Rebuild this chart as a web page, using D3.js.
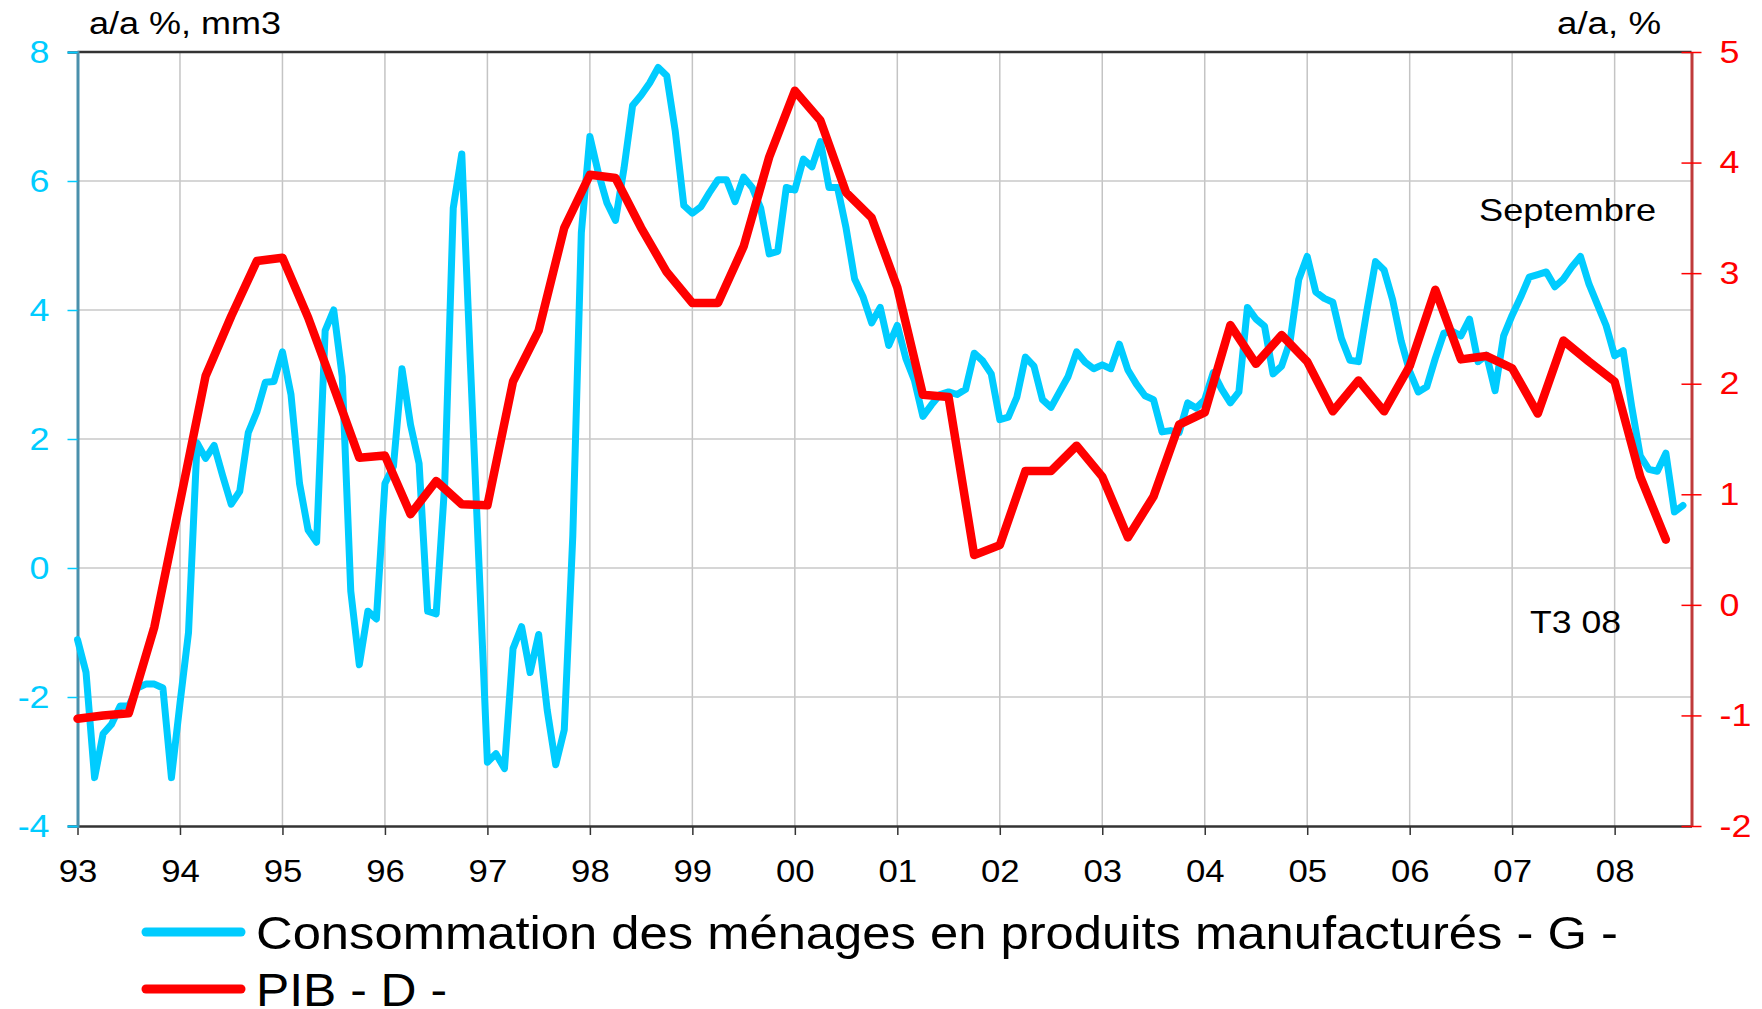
<!DOCTYPE html>
<html>
<head>
<meta charset="utf-8">
<script src="https://cdn.jsdelivr.net/npm/d3@7"></script>
<style>
  html, body { margin: 0; padding: 0; background: #fff; }
  svg { display: block; font-family: "Liberation Sans", Arial, sans-serif; }
</style>
</head>
<body>
<svg id="chart" width="1762" height="1009"></svg>
<script>
// Consommation des ménages en produits manufacturés, a/a %, mm3 (monthly, Jan 93 - Sep 08)
var conso = [
  -1.11, -1.62, -3.25, -2.57, -2.42, -2.14, -2.14, -1.86, -1.80, -1.80, -1.86, -3.25,
  -2.10, -1.00, 1.94, 1.70, 1.90, 1.43, 0.99, 1.19, 2.10, 2.42, 2.88, 2.89,
  3.35, 2.69, 1.31, 0.59, 0.40, 3.68, 4.00, 2.97, -0.36, -1.50, -0.67, -0.79,
  1.31, 1.58, 3.09, 2.22, 1.62, -0.67, -0.71, 1.30, 5.58, 6.42, 3.20, 0.10,
  -3.01, -2.88, -3.11, -1.25, -0.91, -1.62, -1.03, -2.20, -3.05, -2.51, 0.50, 5.20,
  6.69, 6.12, 5.66, 5.39, 6.20, 7.17, 7.33, 7.52, 7.76, 7.63, 6.77, 5.62,
  5.50, 5.60, 5.82, 6.02, 6.02, 5.68, 6.06, 5.90, 5.58, 4.87, 4.91, 5.90,
  5.86, 6.34, 6.22, 6.61, 5.90, 5.90, 5.27, 4.48, 4.20, 3.80, 4.04, 3.45,
  3.76, 3.25, 2.91, 2.35, 2.53, 2.69, 2.73, 2.69, 2.77, 3.33, 3.21, 3.01,
  2.30, 2.34, 2.65, 3.27, 3.13, 2.61, 2.49, 2.73, 2.97, 3.35, 3.19, 3.09,
  3.15, 3.09, 3.47, 3.07, 2.85, 2.67, 2.61, 2.11, 2.13, 2.10, 2.56, 2.48,
  2.61, 3.03, 2.77, 2.56, 2.73, 4.04, 3.86, 3.75, 3.01, 3.13, 3.52, 4.47,
  4.83, 4.28, 4.18, 4.12, 3.56, 3.22, 3.20, 4.00, 4.75, 4.62, 4.16, 3.52,
  3.05, 2.73, 2.81, 3.25, 3.64, 3.67, 3.60, 3.86, 3.20, 3.30, 2.75, 3.60,
  3.92, 4.20, 4.51, 4.55, 4.59, 4.36, 4.48, 4.67, 4.83, 4.40, 4.08, 3.76,
  3.29, 3.37, 2.50, 1.74, 1.53, 1.50, 1.78, 0.87, 0.97
];

// PIB, a/a % (quarterly, T1 93 - T3 08)
var pib = [
  -1.03, -1.00, -0.98, -0.20,
  0.93, 2.07, 2.61, 3.11,
  3.14, 2.60, 1.97, 1.33,
  1.35, 0.82, 1.12, 0.91,
  0.90, 2.02, 2.48, 3.41,
  3.89, 3.86, 3.41, 3.01,
  2.73, 2.73, 3.24, 4.05,
  4.65, 4.38, 3.73, 3.50,
  2.87, 1.90, 1.88, 0.45,
  0.54, 1.21, 1.21, 1.44,
  1.16, 0.61, 0.98, 1.63,
  1.74, 2.53, 2.18, 2.44,
  2.20, 1.75, 2.03, 1.75,
  2.16, 2.85, 2.22, 2.25,
  2.14, 1.73, 2.39, 2.20,
  2.02, 1.16, 0.59
];

var startYear = 1993;
var yearLabels = ['93', '94', '95', '96', '97', '98', '99', '00', '01', '02', '03', '04', '05', '06', '07', '08'];
var leftTicks = [-4, -2, 0, 2, 4, 6, 8];
var rightTicks = [-2, -1, 0, 1, 2, 3, 4, 5];
var legendLabels = ['Consommation des ménages en produits manufacturés - G -', 'PIB - D -'];

var cyan = '#00ccff';
var red = '#ff0000';

var margin = { left: 77.5, right: 1691.5, top: 52, bottom: 826 };

var svg = d3.select('#chart');

// the reference text is a little wider than the font: stretch it horizontally
function stretch(sel, k) {
  sel.each(function() {
    var w = this.getComputedTextLength();
    d3.select(this)
      .attr('textLength', w * k)
      .attr('lengthAdjust', 'spacingAndGlyphs');
  });
}

function fitTo(sel, w) {
  sel.attr('textLength', w).attr('lengthAdjust', 'spacingAndGlyphs');
}

var x = d3.scaleLinear()
  .domain([startYear, startYear + 15.75])
  .range([margin.left, margin.right]);

var yLeft = d3.scaleLinear()
  .domain([-4, 8])
  .range([margin.bottom, margin.top]);

var yRight = d3.scaleLinear()
  .domain([-2, 5])
  .range([margin.bottom, margin.top]);

var years = yearLabels.map(function(d, i) { return startYear + i; });

// Grid
var grid = svg.append('g').attr('class', 'grid');

grid.selectAll('.vgrid')
  .data(years.slice(1))
  .enter()
  .append('line')
  .attr('x1', function(d) { return x(d); })
  .attr('x2', function(d) { return x(d); })
  .attr('y1', margin.top)
  .attr('y2', margin.bottom)
  .attr('stroke', '#c4c4c4')
  .attr('stroke-width', 1.5);

grid.selectAll('.hgrid')
  .data(leftTicks.slice(1, -1))
  .enter()
  .append('line')
  .attr('x1', margin.left)
  .attr('x2', margin.right)
  .attr('y1', function(d) { return yLeft(d); })
  .attr('y2', function(d) { return yLeft(d); })
  .attr('stroke', '#c8c8c8')
  .attr('stroke-width', 1.5);

// Frame top
svg.append('line')
  .attr('x1', margin.left).attr('x2', margin.right)
  .attr('y1', margin.top).attr('y2', margin.top)
  .attr('stroke', '#333').attr('stroke-width', 2.5);

// Axes
var xAxis = d3.axisBottom(x)
  .tickValues(years)
  .tickFormat(function(d, i) { return yearLabels[i]; })
  .tickSizeInner(9)
  .tickSizeOuter(0)
  .tickPadding(25);

var gx = svg.append('g')
  .attr('transform', 'translate(0,' + margin.bottom + ')')
  .call(xAxis);
gx.select('.domain').attr('stroke', '#333').attr('stroke-width', 2.5);
gx.selectAll('.tick line').attr('stroke', '#333').attr('stroke-width', 1.5);
gx.selectAll('.tick text')
  .attr('fill', '#000')
  .style('font-size', '31px')
  .attr('dy', '0.71em')
  .call(stretch, 1.12);

var leftAxis = d3.axisLeft(yLeft)
  .tickValues(leftTicks)
  .tickFormat(function(d) { return String(d); })
  .tickSize(10)
  .tickPadding(18);

var gl = svg.append('g')
  .attr('transform', 'translate(' + margin.left + ',0)')
  .call(leftAxis);
gl.select('.domain').attr('stroke', '#4a90ac').attr('stroke-width', 3);
gl.selectAll('.tick line').attr('stroke', cyan).attr('stroke-width', 1.5);
gl.selectAll('.tick text')
  .attr('fill', cyan)
  .style('font-size', '32px')
  .call(stretch, 1.12);

var rightAxis = d3.axisRight(yRight)
  .tickValues(rightTicks)
  .tickFormat(function(d) { return String(d); })
  .tickSizeInner(10)
  .tickSizeOuter(0)
  .tickPadding(18);

var gr = svg.append('g')
  .attr('transform', 'translate(' + margin.right + ',0)')
  .call(rightAxis);
gr.select('.domain').attr('stroke', '#c03a3a').attr('stroke-width', 3);
gr.selectAll('.tick line')
  .attr('x1', -10)
  .attr('stroke', red)
  .attr('stroke-width', 1.5);
gr.selectAll('.tick text')
  .attr('fill', red)
  .style('font-size', '32px')
  .call(stretch, 1.12);

// Lines
var consoLine = d3.line()
  .x(function(d, i) { return x(startYear + i / 12); })
  .y(function(d) { return yLeft(d); });

var pibLine = d3.line()
  .x(function(d, i) { return x(startYear + i / 4); })
  .y(function(d) { return yRight(d); });

svg.append('path')
  .datum(conso)
  .attr('d', consoLine)
  .attr('fill', 'none')
  .attr('stroke', cyan)
  .attr('stroke-width', 7)
  .attr('stroke-linejoin', 'round')
  .attr('stroke-linecap', 'round');

svg.append('path')
  .datum(pib)
  .attr('d', pibLine)
  .attr('fill', 'none')
  .attr('stroke', red)
  .attr('stroke-width', 8.5)
  .attr('stroke-linejoin', 'round')
  .attr('stroke-linecap', 'round');

// Annotations
svg.append('text')
  .attr('x', 89).attr('y', 34)
  .style('font-size', '31px')
  .text('a/a %, mm3')
  .call(fitTo, 192);

svg.append('text')
  .attr('x', 1557).attr('y', 34)
  .style('font-size', '31px')
  .text('a/a, %')
  .call(fitTo, 104);

svg.append('text')
  .attr('x', 1479).attr('y', 221)
  .style('font-size', '32px')
  .text('Septembre')
  .call(fitTo, 177);

svg.append('text')
  .attr('x', 1530).attr('y', 633)
  .style('font-size', '32px')
  .text('T3 08')
  .call(fitTo, 91);

// Legend
var legend = svg.append('g').attr('class', 'legend');
var legendColors = [cyan, red];
var legendY = [932, 989];
var legendWidths = [1362, 191];

legend.selectAll('line')
  .data(legendLabels)
  .enter()
  .append('line')
  .attr('x1', 146).attr('x2', 241)
  .attr('y1', function(d, i) { return legendY[i]; })
  .attr('y2', function(d, i) { return legendY[i]; })
  .attr('stroke', function(d, i) { return legendColors[i]; })
  .attr('stroke-width', 9)
  .attr('stroke-linecap', 'round');

legend.selectAll('text')
  .data(legendLabels)
  .enter()
  .append('text')
  .attr('x', 256)
  .attr('y', function(d, i) { return legendY[i] + 17; })
  .style('font-size', '46px')
  .attr('textLength', function(d, i) { return legendWidths[i]; })
  .attr('lengthAdjust', 'spacingAndGlyphs')
  .text(function(d) { return d; });
</script>
</body>
</html>
